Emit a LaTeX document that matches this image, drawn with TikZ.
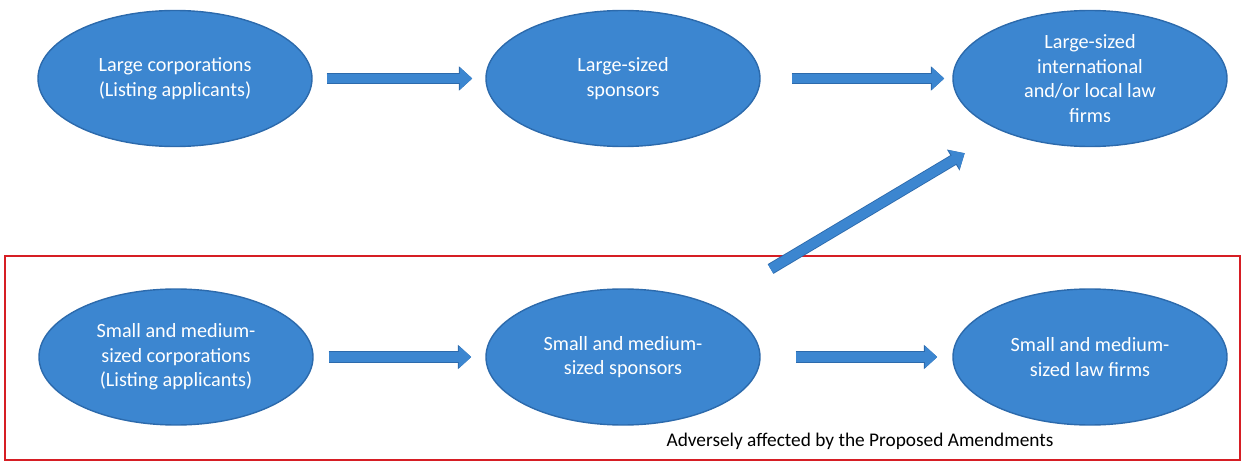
\documentclass[tikz,border=0pt]{standalone}
\usepackage{fontspec}
\setmainfont{Carlito}
\usepackage{tikz}
\usetikzlibrary{positioning,arrows.meta,shapes.geometric}
\definecolor{nodeblue}{RGB}{60,134,208}
\definecolor{nodeedge}{RGB}{44,106,172}
\definecolor{boxred}{RGB}{214,30,36}
\tikzset{
  party/.style={ellipse, draw=nodeedge, fill=nodeblue, thick, minimum width=5.48cm, minimum height=2.72cm,
                inner sep=0pt, align=center, text=white, font=\fontsize{11.5}{14}\selectfont},
  flow/.style={line width=5.4pt, draw=nodeblue, -{Triangle[length=7pt,width=12pt]},
               preaction={draw=nodeedge, line width=6.4pt, -{Triangle[length=7.6pt,width=13.4pt]}}}, % thin edge round the arrow
  redframe/.style={draw=boxred, line width=0.9pt},
  caption/.style={font=\fontsize{11}{13.5}\selectfont, text=black},
}
\begin{document}
\begin{tikzpicture}
  \useasboundingbox (0,0) rectangle (24.84,-9.24);

  % affected group
  \draw[redframe] (0.1,-5.12) rectangle (24.8,-9.2);

  \node[party] (large) at (3.5,-1.57) {Large corporations\\(Listing applicants)};
  \node[party] (largespons) at (12.46,-1.57) {Large-sized\\sponsors};
  \node[party] (largelaw) at (21.8,-1.57) {Large-sized\\international\\and/or local law\\firms};
  \node[party] (sme) at (3.52,-7.14) {Small and medium-\\sized corporations\\(Listing applicants)};
  \node[party] (smespons) at (12.46,-7.14) {Small and medium-\\sized sponsors};
  \node[party] (smelaw) at (21.8,-7.14) {Small and medium-\\sized law firms};
  \node[caption] (lab) at (17.2,-8.82) {Adversely affected by the Proposed Amendments};

  \draw[flow, shorten <=0.28cm, shorten >=0.26cm] (large.east) -- (largespons.west);
  \draw[flow, shorten <=0.62cm, shorten >=0.16cm] (largespons.east) -- (largelaw.west);
  \draw[flow, shorten <=0.3cm, shorten >=0.28cm] (sme.east) -- (smespons.west);
  \draw[flow, shorten <=0.7cm, shorten >=0.3cm] (smespons.east) -- (smelaw.west);
  \draw[flow, shorten <=1.38cm, shorten >=0.86cm] (smespons) -- (largelaw);
\end{tikzpicture}
\end{document}
